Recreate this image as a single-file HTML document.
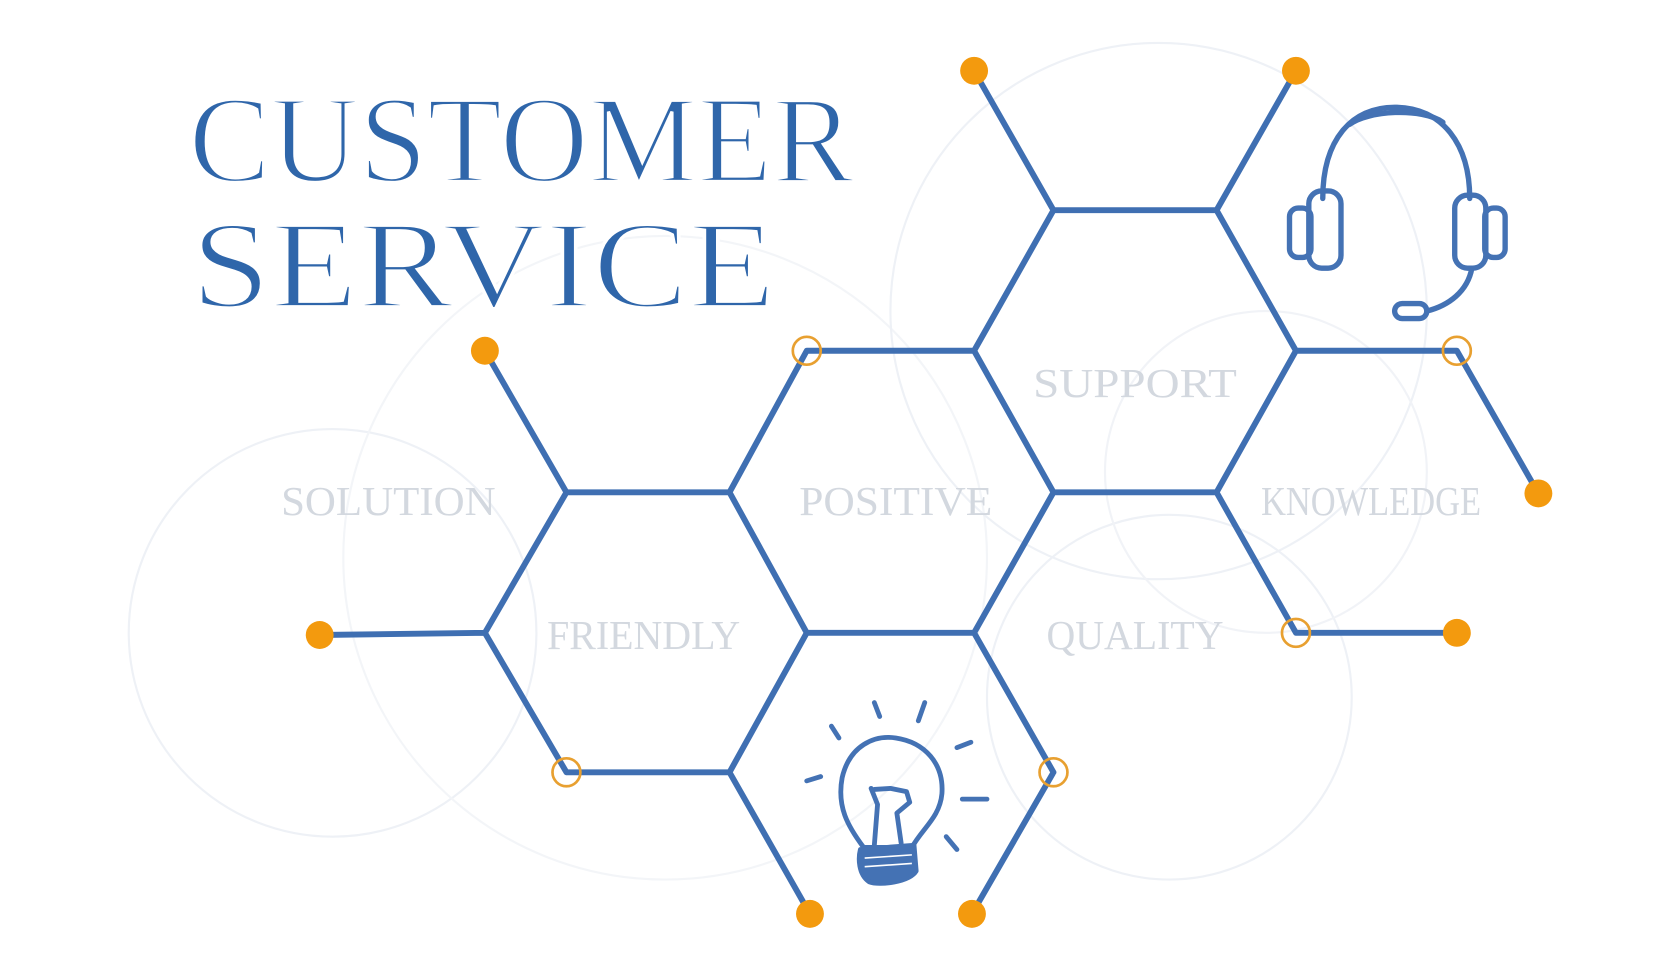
<!DOCTYPE html>
<html><head><meta charset="utf-8"><style>
html,body{margin:0;padding:0;background:#fff;width:1680px;height:960px;overflow:hidden}
svg{display:block}
</style></head><body>
<svg width="1680" height="960" viewBox="0 0 1566 895" preserveAspectRatio="none" xmlns="http://www.w3.org/2000/svg">
<rect width="1566" height="895" fill="#fff"/>
<g fill="none" stroke="#eef1f6" stroke-width="2">
<circle cx="310" cy="590" r="190"/>
<circle cx="620" cy="520" r="300" stroke="#f3f5f8"/>
<circle cx="1080" cy="290" r="250"/>
<circle cx="1090" cy="650" r="170"/>
<circle cx="1180" cy="440" r="150" stroke="#f1f3f7"/>
</g>
<g font-family="Liberation Serif, serif" font-size="38" fill="#d3d8df" text-anchor="middle">
<text x="362" y="480" textLength="200" lengthAdjust="spacingAndGlyphs">SOLUTION</text>
<text x="835" y="480" textLength="180" lengthAdjust="spacingAndGlyphs">POSITIVE</text>
<text x="1058" y="370" textLength="190" lengthAdjust="spacingAndGlyphs">SUPPORT</text>
<text x="1278" y="480" textLength="205" lengthAdjust="spacingAndGlyphs">KNOWLEDGE</text>
<text x="600" y="605" textLength="180" lengthAdjust="spacingAndGlyphs">FRIENDLY</text>
<text x="1058" y="605" textLength="165" lengthAdjust="spacingAndGlyphs">QUALITY</text>
</g>
<g font-family="Liberation Serif, serif" fill="#2f66aa" stroke="#fff" stroke-width="3">
<text x="176" y="169" font-size="116" textLength="620" lengthAdjust="spacingAndGlyphs">CUSTOMER</text>
<text x="178" y="286" font-size="116" textLength="545" lengthAdjust="spacingAndGlyphs">SERVICE</text>
</g>
<g stroke="#3f6fb2" stroke-width="5.5" stroke-linecap="round" fill="none">
<path d="M908 66 L982 196 M1208 66 L1134 196 M982 196 L1134 196 M1134 196 L1208 327 M982 196 L908 327
M752 327 L908 327 M1208 327 L1358 327 M1358 327 L1434 460 M908 327 L982 459 M1208 327 L1134 459
M982 459 L1134 459 M752 327 L680 459 M452 327 L528 459 M528 459 L680 459 M528 459 L452 590
M680 459 L752 590 M982 459 L908 590 M1134 459 L1208 590 M1208 590 L1358 590 M298 592 L452 590
M752 590 L908 590 M452 590 L528 720 M528 720 L680 720 M752 590 L680 720 M908 590 L982 720
M680 720 L755 852 M982 720 L906 852"/>
</g>
<g fill="#f39a0e">
<circle cx="908" cy="66" r="13"/><circle cx="1208" cy="66" r="13"/>
<circle cx="452" cy="327" r="13"/><circle cx="1434" cy="460" r="13"/>
<circle cx="298" cy="592" r="13"/><circle cx="1358" cy="590" r="13"/>
<circle cx="755" cy="852" r="13"/><circle cx="906" cy="852" r="13"/>
</g>
<g fill="none" stroke="#e8a030" stroke-width="2.5">
<circle cx="752" cy="327" r="13"/><circle cx="1358" cy="327" r="13"/>
<circle cx="1208" cy="590" r="13"/><circle cx="528" cy="720" r="13"/>
<circle cx="982" cy="720" r="13"/>
</g>
<g stroke="#4472b4" stroke-width="5" fill="none" stroke-linecap="round" stroke-linejoin="round">
<path d="M1233 185 C1233 130 1260 100 1300 100 C1345 100 1370 135 1370 185"/>
<path d="M1258 116 C1275 103 1325 100 1345 114"/>
<rect x="1220" y="178" width="30" height="72" rx="12"/>
<rect x="1202" y="194" width="20" height="46" rx="8"/>
<rect x="1356" y="182" width="29" height="68" rx="12"/>
<rect x="1384" y="194" width="19" height="46" rx="8"/>
<path d="M1372 250 C1368 272 1350 285 1330 290"/>
<rect x="1300" y="283" width="30" height="14" rx="7"/>
</g>
<g stroke="#4472b4" stroke-width="4.5" fill="none" stroke-linecap="round" stroke-linejoin="round">
<path d="M805 790 C790 770 780 752 785 725 C792 695 815 685 835 688 C862 692 880 712 878 740 C876 762 860 772 850 790 Z"/>
<path d="M815 788 L818 750 L812 735 M840 786 L836 758 L848 748 L845 738 L830 735 L815 736"/>
<path d="M802 792 L852 788 L854 812 C848 822 820 826 810 822 C800 815 800 800 802 792 Z" fill="#4472b4"/>
<path d="M775 677 L782 688 M815 655 L820 668 M862 655 L856 672 M892 697 L905 692 M897 745 L920 745 M882 780 L892 792 M752 728 L765 724"/>
</g>
<g stroke="#fff" stroke-width="1.5"><path d="M806 800 L850 797 M806 808 L850 805"/></g>
</svg>
</body></html>
